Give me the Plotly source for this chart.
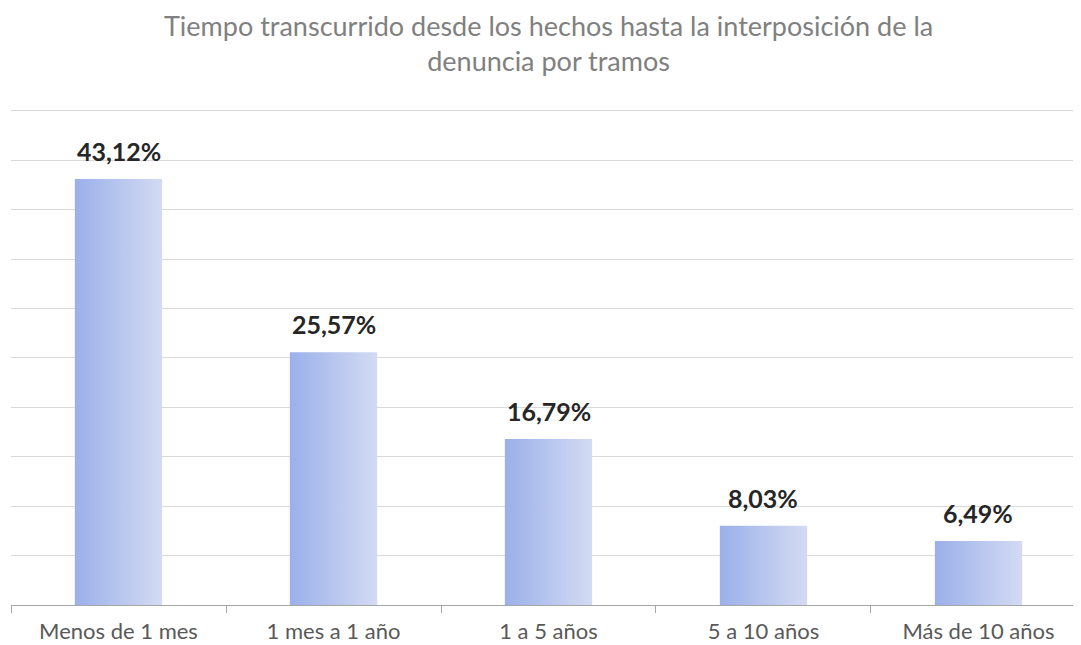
import plotly.graph_objects as go

categories = ["Menos de 1 mes", "1 mes a 1 año", "1 a 5 años", "5 a 10 años", "Más de 10 años"]
values = [43.12, 25.57, 16.79, 8.03, 6.49]
labels = ["43,12%", "25,57%", "16,79%", "8,03%", "6,49%"]
title_text = "Tiempo transcurrido desde los hechos hasta la interposición de la<br>denuncia por tramos"

half_w = 0.203
fig = go.Figure()
for i, v in enumerate(values):
    fig.add_trace(go.Scatter(
        x=[i - half_w, i + half_w, i + half_w, i - half_w, i - half_w],
        y=[0, 0, v, v, 0],
        mode="lines", line=dict(width=0),
        fill="toself",
        fillgradient=dict(type="horizontal",
                          colorscale=[[0, "#9bb0ea"], [1, "#d3dbf3"]]),
        hoverinfo="skip", showlegend=False,
    ))
    fig.add_annotation(x=i, y=v, text="<b>" + labels[i] + "</b>", showarrow=False,
                       yanchor="bottom", yshift=11,
                       font=dict(family="Lato", size=25, color="#262626"))

fig.add_annotation(xref="paper", yref="paper", x=0.499, y=1.134,
                   xanchor="center", yanchor="middle", showarrow=False,
                   text=title_text, align="center",
                   font=dict(family="Lato", size=27, color="#808080"))

fig.update_layout(
    width=1081, height=645,
    margin=dict(l=3, r=0, t=101, b=48),
    paper_bgcolor="white", plot_bgcolor="white",
    showlegend=False,
)
fig.update_xaxes(
    range=[-0.5, 4.514], tickvals=list(range(len(categories))), ticktext=categories,
    ticks="", showgrid=False, zeroline=False,
    showline=True, linecolor="#a6a6a6", linewidth=1,
    tickfont=dict(family="Lato", size=22, color="#595959"),
    ticklabelstandoff=7,
    minor=dict(tickvals=[i - 0.5 for i in range(len(categories) + 1)], ticks="outside",
               ticklen=7, tickcolor="#a6a6a6", showgrid=False),
    fixedrange=True,
)
fig.update_yaxes(
    range=[0, 50.2], tickvals=[5 * k for k in range(1, 11)], showticklabels=False, ticks="",
    showgrid=True, gridcolor="#d9d9d9", gridwidth=1, zeroline=False,
    showline=False, fixedrange=True,
)
fig.write_html("out.html")
